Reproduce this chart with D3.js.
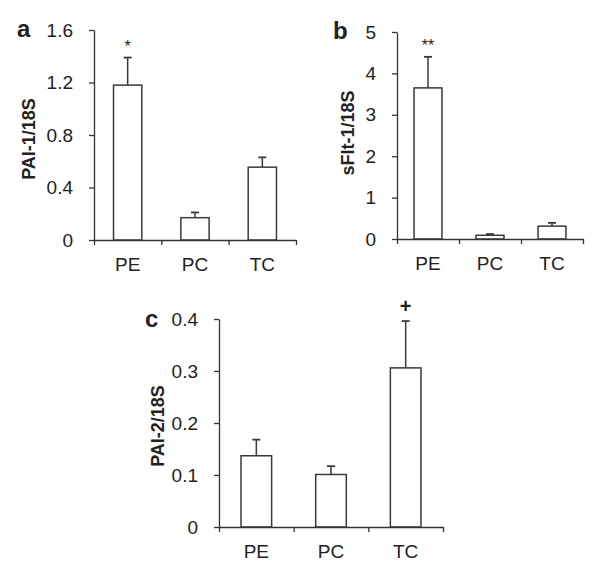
<!DOCTYPE html>
<html>
<head>
<meta charset="utf-8">
<script src="https://cdn.jsdelivr.net/npm/d3@7"></script>
<style>
  body { margin: 0; background: #fff; }
  svg text { font-family: "Liberation Sans", Arial, sans-serif; fill: #222; }
  .axis path, .axis line { stroke: #333; stroke-width: 1.3; }
</style>
</head>
<body>
<div id="graph"></div>
<script>
// categories shared by all panels
var groups = ["PE", "PC", "TC"];

// panel a: PAI-1/18S
var paiOneMean = [1.18, 0.17, 0.555];
var paiOneErr = [1.39, 0.21, 0.63];
var paiOneTicks = [0, 0.4, 0.8, 1.2, 1.6];
var paiOneMarks = ["*", "", ""];

// panel b: sFlt-1/18S
var sfltMean = [3.65, 0.09, 0.31];
var sfltErr = [4.4, 0.12, 0.39];
var sfltTicks = [0, 1, 2, 3, 4, 5];
var sfltMarks = ["**", "", ""];

// panel c: PAI-2/18S
var paiTwoMean = [0.137, 0.101, 0.306];
var paiTwoErr = [0.168, 0.117, 0.396];
var paiTwoTicks = [0, 0.1, 0.2, 0.3, 0.4];
var paiTwoMarks = ["", "", "+"];

var svg = d3.select("#graph").append("svg")
  .attr("width", 600)
  .attr("height", 571)

function panel(opt) {
  var g = svg.append("g")

  var x = d3.scaleBand().domain(groups).range([opt.x0, opt.x1])
  var xb = d3.scaleLinear().domain([0, groups.length]).range([opt.x0, opt.x1])
  var y = d3.scaleLinear().domain([0, opt.ticks[opt.ticks.length - 1]]).range([opt.y0, opt.y1])
  var bw = x.bandwidth() * opt.bar

  // bars
  g.selectAll("rect.bar")
  .data(opt.mean)
  .enter().append("rect")
  .attr("x", (d, i) => x(groups[i]) + (x.bandwidth() - bw) / 2)
  .attr("y", d => y(d))
  .attr("width", bw)
  .attr("height", d => y(0) - y(d))
  .attr("fill", "#fff")
  .attr("stroke", "#3a3a3a")
  .attr("stroke-width", 1.5)

  // error bars (upper only)
  opt.err.forEach((e, i) => {
    var cx = x(groups[i]) + x.bandwidth() / 2
    g.append("line")
    .attr("x1", cx).attr("x2", cx)
    .attr("y1", y(opt.mean[i])).attr("y2", y(e))
    .attr("stroke", "#3a3a3a").attr("stroke-width", 1.5)
    g.append("line")
    .attr("x1", cx - 4).attr("x2", cx + 4)
    .attr("y1", y(e)).attr("y2", y(e))
    .attr("stroke", "#3a3a3a").attr("stroke-width", 1.8)
    if (opt.marks[i]) {
      g.append("text")
      .attr("x", cx)
      .attr("y", y(e) - opt.markGap)
      .attr("text-anchor", "middle")
      .attr("font-size", opt.markSize)
      .attr("font-weight", opt.markBold ? "bold" : "normal")
      .text(opt.marks[i])
    }
  })

  // y axis
  g.append("g")
  .attr("class", "axis")
  .attr("transform", "translate(" + opt.x0 + ",0)")
  .call(d3.axisLeft(y).tickValues(opt.ticks).tickSize(5).tickSizeOuter(0).tickPadding(16)
    .tickFormat(d3.format("")))
  .call(s => s.selectAll("text").attr("font-size", 19).style("font-family", "'Liberation Sans', Arial, sans-serif").attr("fill", "#222"))

  // x axis with ticks between categories
  g.append("g")
  .attr("class", "axis")
  .attr("transform", "translate(0," + opt.y0 + ")")
  .call(d3.axisBottom(xb).tickValues([0, 1, 2, 3]).tickSize(5).tickSizeOuter(0).tickFormat(""))

  g.selectAll("text.cat")
  .data(groups)
  .enter().append("text")
  .attr("x", d => x(d) + x.bandwidth() / 2)
  .attr("y", opt.y0 + 31)
  .attr("text-anchor", "middle")
  .attr("font-size", 19)
  .text(d => d)

  // axis title
  g.append("text")
  .attr("transform", "translate(" + opt.titleX + "," + opt.titleY + ") rotate(-90)")
  .attr("text-anchor", "middle")
  .attr("font-size", 18)
  .attr("font-weight", "bold")
  .text(opt.title)

  // panel letter
  g.append("text")
  .attr("x", opt.letterX)
  .attr("y", opt.letterY)
  .attr("font-size", 24)
  .attr("font-weight", "bold")
  .text(opt.letter)
}

panel({ x0: 94, x1: 296, y0: 240, y1: 30, mean: paiOneMean, err: paiOneErr, ticks: paiOneTicks,
  marks: paiOneMarks, markGap: 6, markSize: 16, markBold: false, bar: 0.42,
  title: "PAI-1/18S", titleX: 35, titleY: 139, letter: "a", letterX: 17, letterY: 37 })

panel({ x0: 397, x1: 583, y0: 239, y1: 32, mean: sfltMean, err: sfltErr, ticks: sfltTicks,
  marks: sfltMarks, markGap: 6, markSize: 16, markBold: false, bar: 0.45,
  title: "sFlt-1/18S", titleX: 354, titleY: 133, letter: "b", letterX: 333, letterY: 39 })

panel({ x0: 219, x1: 443, y0: 527, y1: 319, mean: paiTwoMean, err: paiTwoErr, ticks: paiTwoTicks,
  marks: paiTwoMarks, markGap: 8, markSize: 20, markBold: true, bar: 0.41,
  title: "PAI-2/18S", titleX: 164, titleY: 426, letter: "c", letterX: 145, letterY: 327 })
</script>
</body>
</html>
